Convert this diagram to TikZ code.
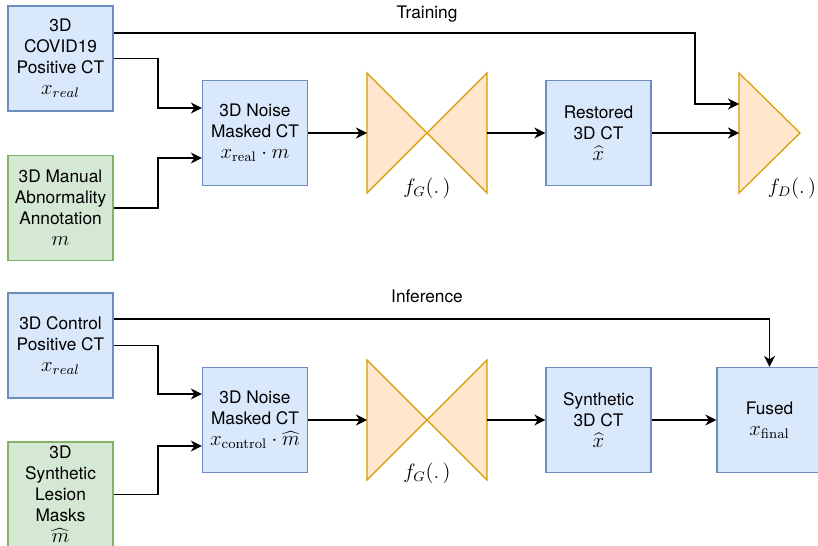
\documentclass[tikz,border=0pt]{standalone}
\usepackage[no-math]{fontspec}
\setmainfont{TeX Gyre Heros}
\usetikzlibrary{arrows.meta}
\definecolor{bfill}{HTML}{DAE8FC}
\definecolor{bline}{HTML}{6C8EBF}
\definecolor{gfill}{HTML}{D5E8D4}
\definecolor{gline}{HTML}{82B366}
\definecolor{ofill}{HTML}{FFE6CC}
\definecolor{oline}{HTML}{D79B00}
\newcommand{\mysize}{\fontsize{10}{12.15}\selectfont}
\newcommand{\mm}[1]{{\fontsize{12}{12.15}\selectfont$#1$}}
\begin{document}
\begin{tikzpicture}[x=0.5787pt,y=-0.5787pt,
  boxbase/.style={line width=0.7pt, minimum width=60.76pt, minimum height=60.76pt, align=center, inner sep=0pt, font=\mysize},
  bluebox/.style={boxbase, draw=bline, fill=bfill},
  greenbox/.style={boxbase, draw=gline, fill=gfill},
  orangeshape/.style={fill=ofill, draw=oline, line width=0.7pt, line join=miter},
  conn/.style={line width=0.75pt, -{Stealth[length=6.4pt,width=6.4pt,inset=2pt]}},
  lbl/.style={font=\mysize, inner sep=0pt}]
\useasboundingbox (0,0) rectangle (818,546);
\fill[white] (0,0) rectangle (818,546);

% ---------- Training ----------
\node[lbl] (trainlbl) at (427,14) {Training};
\node[bluebox] (a) at (60.5,58.5) {3D\\COVID19\\Positive CT\\\mm{x_{real}}};
\node[greenbox] (b) at (60.5,208) {3D Manual\\Abnormality\\Annotation\\\mm{m}};
\node[bluebox] (c) at (255,133) {3D Noise\\Masked CT\\\mm{x_{\mathrm{real}}\cdot m}};
\filldraw[orangeshape] (367,73) -- (487,193) -- (487,73) -- (367,193) -- cycle;
\coordinate (g1l) at (367,133);
\coordinate (g1r) at (487,133);
\node[lbl] (fg1) at (427,188) {\mm{f_G(.\,)}};
\node[bluebox] (r) at (598.5,133) {Restored\\3D CT\\\mm{\widehat{x}}};
\filldraw[orangeshape] (739,73) -- (800,133) -- (739,193) -- cycle;
\coordinate (dl) at (739,133);
\coordinate (dlt) at (739,104);
\node[lbl] (fd) at (792,188) {\mm{f_D(.\,)}};

\coordinate (k1) at (158,108);
\coordinate (k2) at (158,158);
\coordinate (k3) at (695,33);
\draw[conn] (a.east) -| (k1) -- (c.west |- k1);
\draw[conn] (b.east) -| (k2) -- (c.west |- k2);
\draw[conn] (a.east |- k3) -- (k3) |- (dlt);
\draw[conn] (c.east) -- (g1l);
\draw[conn] (g1r) -- (r.west);
\draw[conn] (r.east) -- (dl);

% ---------- Inference ----------
\node[lbl] (inflbl) at (427,296) {Inference};
\node[bluebox] (dd) at (60.5,345.5) {3D Control\\Positive CT\\\mm{x_{real}}};
\node[greenbox] (e) at (60.5,494.5) {3D\\Synthetic\\Lesion\\Masks\\\mm{\widehat{m}}};
\node[bluebox] (f) at (255,420) {3D Noise\\Masked CT\\\mm{x_{\mathrm{control}}\cdot\widehat{m}}};
\filldraw[orangeshape] (367,360) -- (487,480) -- (487,360) -- (367,480) -- cycle;
\coordinate (g2l) at (367,420);
\coordinate (g2r) at (487,420);
\node[lbl] (fg2) at (427,473) {\mm{f_G(.\,)}};
\node[bluebox] (s) at (598.5,420) {Synthetic\\3D CT\\\mm{\widehat{x}}};
\node[bluebox] (u) at (769.5,420) {Fused\\\mm{x_{\mathrm{final}}}};

\coordinate (k4) at (158,394);
\coordinate (k5) at (158,446);
\coordinate (k6) at (769.5,319);
\draw[conn] (dd.east) -| (k4) -- (f.west |- k4);
\draw[conn] (e.east) -| (k5) -- (f.west |- k5);
\draw[conn] (dd.east |- k6) -| (u.north);
\draw[conn] (f.east) -- (g2l);
\draw[conn] (g2r) -- (s.west);
\draw[conn] (s.east) -- (u.west);
\end{tikzpicture}
\end{document}
